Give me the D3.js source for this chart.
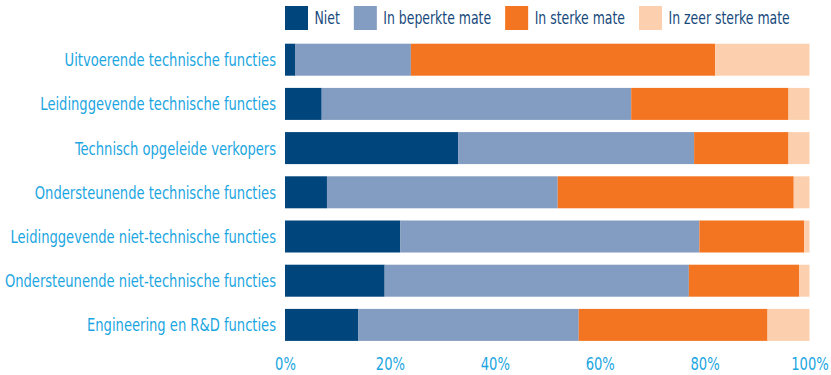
<!DOCTYPE html>
<html>
<head>
<meta charset="utf-8">
<script src="https://cdn.jsdelivr.net/npm/d3@7/dist/d3.min.js"></script>
<style>
  html, body { margin: 0; padding: 0; background: #fff; }
  svg { display: block; }
  text { font-family: "DejaVu Sans Condensed", "Liberation Sans Narrow", "Roboto", sans-serif; }
</style>
</head>
<body>
<svg id="chart" width="831" height="375"></svg>
<script>
// Job categories, top to bottom
const categories = [
  "Uitvoerende technische functies",
  "Leidinggevende technische functies",
  "Technisch opgeleide verkopers",
  "Ondersteunende technische functies",
  "Leidinggevende niet-technische functies",
  "Ondersteunende niet-technische functies",
  "Engineering en R&D functies"
];

// Answer levels (stack order, left to right)
const seriesNames = ["Niet", "In beperkte mate", "In sterke mate", "In zeer sterke mate"];

// Share of respondents per level (%), one array per level, in category order
const niet           = [2, 7, 33, 8, 22, 19, 14];
const beperkteMate   = [22, 59, 45, 44, 57, 58, 42];
const sterkeMate     = [58, 30, 18, 45, 20, 21, 36];
const zeerSterkeMate = [18, 4, 4, 3, 1, 2, 8];

const tickValues = [0, 20, 40, 60, 80, 100];

const colors = ["#00457C", "#839CC1", "#F47521", "#FCD0AF"];

// Horizontal squeeze for a condensed look
const squeeze = 0.81;
const legendSqueeze = 0.77;
const fontSize = "18px";

// Build rows for the stack layout
const seriesArrays = [niet, beperkteMate, sterkeMate, zeerSterkeMate];
const rows = categories.map((c, i) => {
  const r = { category: c };
  seriesNames.forEach((s, k) => { r[s] = seriesArrays[k][i]; });
  return r;
});

const svg = d3.select("#chart");

const x = d3.scaleLinear().domain([0, 100]).range([285, 809.5]);
const y = d3.scaleBand().domain(categories).range([37.6, 347]).paddingInner(0.276).paddingOuter(0.138);
const color = d3.scaleOrdinal().domain(seriesNames).range(colors);

const stacked = d3.stack().keys(seriesNames)(rows);

// Bars
svg.append("g")
  .selectAll("g")
  .data(stacked)
  .join("g")
    .attr("fill", d => color(d.key))
  .selectAll("rect")
  .data(d => d)
  .join("rect")
    .attr("x", d => x(d[0]))
    .attr("y", d => y(d.data.category))
    .attr("width", d => x(d[1]) - x(d[0]))
    .attr("height", y.bandwidth());

// Category labels
const yAxis = svg.append("g")
  .attr("transform", "translate(276,0)")
  .call(d3.axisLeft(y).tickSize(0).tickPadding(0));
yAxis.select(".domain").remove();
yAxis.selectAll("text")
  .attr("x", 0)
  .attr("fill", "#1BA6E1")
  .style("font-size", fontSize)
  .attr("dy", "0.36em")
  .attr("transform", `scale(${squeeze},1)`);

// Percentage axis
const xAxis = svg.append("g")
  .attr("transform", "translate(0,370)")
  .call(d3.axisBottom(x).tickValues(tickValues).tickSize(0).tickPadding(0).tickFormat(d => d + "%"));
xAxis.select(".domain").remove();
xAxis.selectAll("text")
  .attr("y", 0)
  .attr("dy", 0)
  .attr("fill", "#1BA6E1")
  .style("font-size", fontSize)
  .attr("transform", `scale(${squeeze},1)`);

// Legend
const legend = svg.append("g").attr("transform", "translate(285,6)");
let lx = 0;
seriesNames.forEach((name, i) => {
  const g = legend.append("g").attr("transform", `translate(${lx},0)`);
  g.append("rect").attr("width", 23).attr("height", 24).attr("fill", colors[i]);
  const t = g.append("text")
    .attr("transform", `translate(29.5,12) scale(${legendSqueeze},1)`)
    .attr("dy", "0.36em")
    .attr("fill", "#174A7C")
    .style("font-size", fontSize)
    .text(name);
  lx += 29.5 + t.node().getComputedTextLength() * legendSqueeze + 14;
});
</script>
</body>
</html>
